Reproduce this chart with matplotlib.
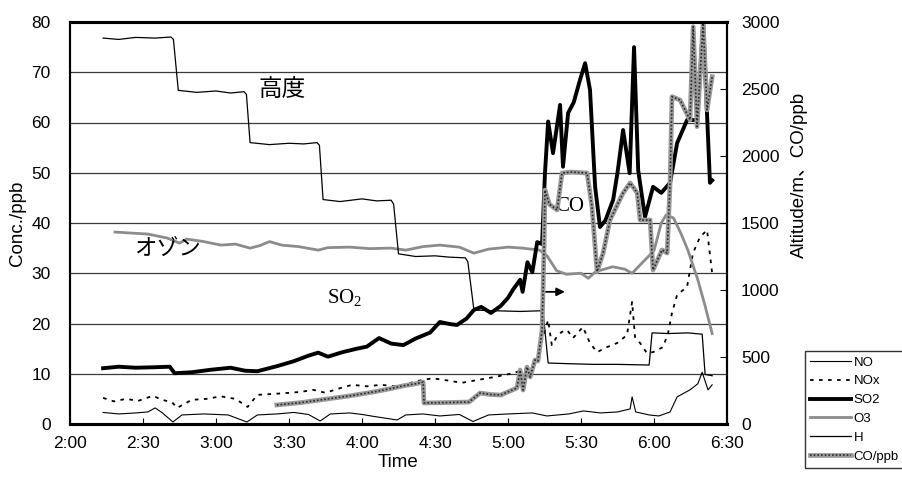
import matplotlib
matplotlib.use("Agg")
import matplotlib.pyplot as plt
from matplotlib.legend_handler import HandlerTuple

plt.rcParams['font.family'] = ['Liberation Sans', 'Noto Sans CJK JP', 'DejaVu Sans']
plt.rcParams['mathtext.default'] = 'regular'

# ---- data (time in minutes after midnight) ----
h_t = [133.6, 140, 147, 155, 161.5, 162.5, 164.5, 172, 180, 186, 191.5, 192.5, 194, 202, 210, 216,
       221.5, 222.5, 224, 231, 240, 246, 252, 253, 255, 262, 270, 276, 282.5, 283.5, 286, 295,
       305, 313.5, 314.5, 316.5, 325, 335, 345, 358, 359.2, 366, 374, 379.8, 381, 383.9]
h_alt = [2880, 2870, 2885, 2880, 2888, 2870, 2490, 2475, 2485, 2470, 2480, 2460, 2100, 2085, 2095, 2090,
         2100, 2080, 1675, 1660, 1680, 1665, 1670, 1640, 1270, 1250, 1255, 1245, 1240, 1210, 850, 845,
         840, 845, 820, 455, 450, 445, 445, 440, 680, 675, 680, 670, 370, 360]

o3_t = [138.5, 145, 152, 160, 165, 168, 175, 182, 188, 194, 198, 202, 207, 214, 222, 226, 235, 243,
        252, 258, 265, 272, 280, 286, 292, 300, 306, 313, 316, 320, 324, 330, 333, 336, 343, 348,
        351, 356, 360, 363, 365, 368, 371, 374, 378, 381, 383.9]
o3_v = [38.2, 38.0, 37.8, 37.0, 36.0, 36.8, 36.3, 35.6, 35.8, 35.0, 35.5, 36.3, 35.6, 35.3, 34.6, 35.1,
        35.2, 34.9, 35.0, 34.6, 35.3, 35.6, 35.2, 34.0, 34.8, 35.2, 35.0, 34.6, 33.5, 30.5, 29.8, 30.0,
        29.0, 30.3, 31.3, 30.8, 30.0, 32.5, 34.5, 40.0, 41.6, 41.0, 38.0, 34.5, 28.7, 23.5, 18.0]

so2_t = [133.6, 140, 147, 155, 161, 163, 170, 178, 186, 192, 197, 205, 212, 218, 222, 226, 232, 238,
         242, 247, 252, 257, 262, 268, 272, 276, 279, 283, 286, 289, 293, 297, 300, 302, 305, 306,
         308, 310, 312, 314, 315.2, 316.5, 318.5, 321.4, 322.6, 324.7, 327, 329.6, 331.7, 333.7,
         335.8, 337.8, 340, 343.2, 345, 347.3, 350, 351.8, 353.5, 356.3, 359.6, 363, 366.6, 369.5,
         373.6, 377.7, 379, 380.2, 381.5, 383, 383.9]
so2_v = [11.1, 11.4, 11.2, 11.3, 11.4, 10.1, 10.3, 10.8, 11.2, 10.6, 10.5, 11.5, 12.5, 13.6, 14.2, 13.4,
         14.3, 15.0, 15.4, 17.1, 16.0, 15.7, 17.0, 18.2, 20.3, 19.9, 19.7, 21.0, 22.7, 23.3, 22.1, 23.5,
         25.1, 26.7, 28.7, 26.3, 32.2, 30.2, 36.2, 35.8, 50.0, 60.2, 53.9, 63.5, 51.2, 61.9, 64.0, 68.5,
         71.8, 66.5, 47.2, 39.2, 40.5, 44.6, 50.0, 58.5, 49.9, 75.0, 50.5, 41.2, 47.2, 46.0, 48.0, 55.9,
         60.5, 60.5, 70.0, 79.8, 65.0, 48.0, 48.5]

nox_t = [133.6, 138, 143, 148, 154, 158, 162, 164, 170, 176, 182, 188, 193, 197, 204, 210, 215, 220,
         225, 230, 236, 242, 248, 255, 262, 269, 276, 281, 288, 295, 302, 308, 312, 314, 316.5, 318,
         320, 322, 324.3, 326.7, 330.8, 333.7, 336.6, 340.7, 344.8, 348.9, 351, 352.2, 354.3, 357.1,
         359.6, 363.7, 365.8, 367.4, 369.5, 373.6, 376, 378.9, 381.8, 383.9]
nox_v = [5.2, 4.5, 5.0, 4.6, 5.6, 4.8, 4.3, 3.2, 4.8, 5.0, 5.5, 5.0, 3.4, 5.8, 6.0, 6.2, 6.4, 6.8,
         6.2, 7.0, 7.8, 7.5, 7.8, 7.4, 8.5, 9.1, 8.6, 8.2, 8.8, 9.4, 10.1, 11.0, 12.0, 16.7, 20.7, 15.7,
         17.3, 18.3, 18.7, 17.1, 19.3, 16.1, 14.3, 15.3, 16.1, 17.7, 24.3, 17.3, 16.1, 14.1,
         14.3, 15.3, 18.1, 22.1, 25.7, 27.3, 34.0, 37.2, 38.6, 30.0]

no_t = [133.6, 140, 147, 152, 155, 158, 162.3, 166, 175, 185, 192.7, 197, 205, 212, 218, 222.8, 227,
        235, 240, 245, 254.4, 258, 265, 272, 280, 285.6, 292, 300, 310, 316, 325, 331, 338, 345,
        350.2, 351, 352.5, 358, 362, 366.6, 369.5, 374.8, 378, 379.8, 382.2, 383.9]
no_v = [2.3, 2.0, 2.2, 2.4, 3.2, 2.2, 0.4, 1.8, 2.0, 1.8, 0.4, 1.8, 2.0, 2.3, 1.9, 0.6, 2.0,
        2.2, 1.9, 1.5, 0.8, 1.8, 2.0, 1.6, 1.9, 0.5, 1.8, 2.0, 2.2, 1.6, 2.0, 2.6, 2.2, 2.4,
        3.0, 5.4, 2.4, 1.8, 1.6, 2.4, 5.4, 6.8, 8.0, 10.3, 6.8, 7.8]

co_t = [205, 215, 225, 235, 245, 252, 257, 262, 265.1, 265.5, 275, 284, 288.5, 293, 297, 303.7, 305,
        306.2, 307.8, 309.1, 311.1, 312.3, 314, 314.8, 315.2, 317, 320.2, 322.2, 326, 332.5, 334.5,
        336.6, 339.1, 341.9, 347.3, 350.2, 353.1, 354.3, 358.4, 359.6, 363.3, 365.4, 366.6, 367.4,
        370.7, 374.8, 376.1, 377.7, 380.2, 381.8, 383.9]
co_v = [142, 160, 185, 210, 240, 265, 285, 300, 313, 157, 160, 164, 231, 220, 216, 269, 403,
        254, 425, 351, 478, 470, 700, 1300, 1746, 1640, 1597, 1873, 1880, 1873, 1622,
        1137, 1276, 1522, 1724, 1799, 1724, 1522, 1522, 1149, 1299, 1276, 1800, 2443,
        2418, 2269, 2965, 2219, 2993, 2344, 2592]

x_ticks = [120, 150, 180, 210, 240, 270, 300, 330, 360, 390]
x_labels = ["2:00", "2:30", "3:00", "3:30", "4:00", "4:30", "5:00", "5:30", "6:00", "6:30"]

# ---- figure ----
fig = plt.figure(figsize=(9.02, 4.83), dpi=100)
ax1 = fig.add_axes([70/902, 1-424/483, 657/902, 402/483])
ax2 = ax1.twinx()

ax1.set_xlim(120, 390)
ax1.set_ylim(0, 80)
ax2.set_ylim(0, 3000)
ax1.set_yticks(range(0, 81, 10))
ax2.set_yticks(range(0, 3001, 500))
ax1.set_xticks(x_ticks)
ax1.set_xticklabels(x_labels)
ax1.grid(axis='y', color='#3a3a3a', lw=0.9)
ax1.set_axisbelow(True)

ax1.tick_params(axis='y', length=0, labelsize=12.5, pad=14)
ax1.tick_params(axis='x', direction='in', length=4, labelsize=12.5, pad=9)
ax2.tick_params(axis='y', direction='in', length=5, labelsize=12.5, pad=10)

for ax in (ax1, ax2):
    for s in ax.spines.values():
        s.set_linewidth(1.5)
    ax.spines['top'].set_linewidth(2.2)
    ax.spines['bottom'].set_linewidth(2.2)

l_no, = ax1.plot(no_t, no_v, color='black', lw=0.8, label='NO')
l_nox, = ax1.plot(nox_t, nox_v, color='black', lw=1.3, ls=(0, (2, 3)), label='NOx')
l_o3, = ax1.plot(o3_t, o3_v, color='#8c8c8c', lw=2.0, label='O3')
l_so2, = ax1.plot(so2_t, so2_v, color='black', lw=2.8, label='SO2')
l_h, = ax2.plot(h_t, h_alt, color='black', lw=0.9, label='H')
l_co1, = ax2.plot(co_t, co_v, color='#9a9a9a', lw=3.4)
l_co2, = ax2.plot(co_t, co_v, color='#2a2a2a', lw=1.2, ls=(0, (1, 1.2)))

ax1.set_ylabel('Conc./ppb', fontsize=13.5, labelpad=4)
ax1.set_xlabel('Time', fontsize=13.5, labelpad=2)
ax2.set_ylabel('Altitude/m、CO/ppb', fontsize=13.5)
ax2.yaxis.set_label_coords(1.097, 0.62)

ax1.text(207, 66.5, '高度', fontsize=17, ha='center', va='center', family=['Noto Sans CJK JP'])
ax1.text(160, 34.8, 'オゾン', fontsize=16, ha='center', va='center', family=['Noto Sans CJK JP'])
ax1.text(233, 25.1, r'SO$_2$', fontsize=15, ha='center', va='center', family=['Liberation Serif'])
ax1.text(325.5, 43.2, 'CO', fontsize=15, ha='center', va='center', family=['Liberation Serif'])
ax1.annotate('', xy=(324.5, 26.3), xytext=(314.4, 26.3),
             arrowprops=dict(arrowstyle='-|>', color='black', lw=1.3, mutation_scale=12))

fig.legend([l_no, l_nox, l_so2, l_o3, l_h, (l_co1, l_co2)],
           ['NO', 'NOx', 'SO2', 'O3', 'H', 'CO/ppb'],
           handler_map={tuple: HandlerTuple(ndivide=1, pad=0)},
           loc='upper left', bbox_to_anchor=(805/902, 1-351/483),
           prop={'size': 9.5}, frameon=True, fancybox=False, edgecolor='black',
           handlelength=3.1, handletextpad=0.2, labelspacing=0.5,
           borderpad=0.4, borderaxespad=0)

fig.savefig('out.png', dpi=100)
